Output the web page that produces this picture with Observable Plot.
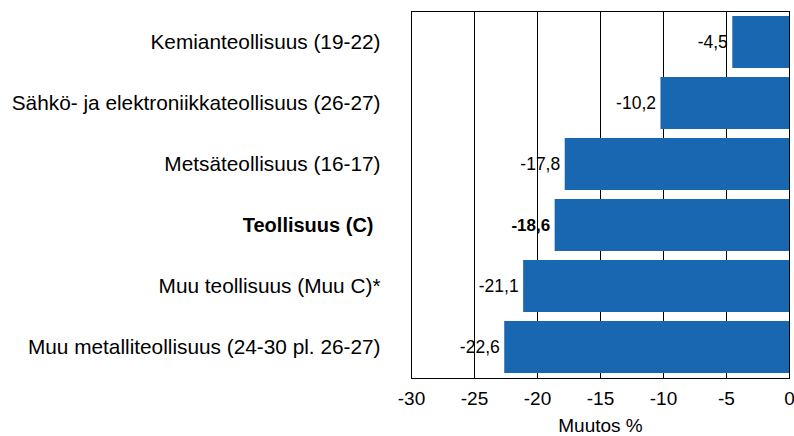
<!DOCTYPE html>
<html>
<head>
<meta charset="utf-8">
<script src="https://cdn.jsdelivr.net/npm/d3@7"></script>
<script src="https://cdn.jsdelivr.net/npm/@observablehq/plot@0.6"></script>
<style>
  html, body { margin: 0; padding: 0; background: #ffffff; }
  #chart { width: 794px; height: 436px; }
</style>
</head>
<body>
<div id="chart"></div>
<script>
const categories = [
  "Kemianteollisuus (19-22)",
  "Sähkö- ja elektroniikkateollisuus (26-27)",
  "Metsäteollisuus (16-17)",
  "Teollisuus (C)",
  "Muu teollisuus (Muu C)*",
  "Muu metalliteollisuus (24-30 pl. 26-27)"
];
const values = [-4.5, -10.2, -17.8, -18.6, -21.1, -22.6];
const boldCategory = "Teollisuus (C)";
const xTicks = [-30, -25, -20, -15, -10, -5, 0];
const xLabel = "Muutos %";

const data = categories.map((c, i) => ({cat: c, value: values[i], bold: c === boldCategory}));
const fmt = v => d3.format(".1f")(v).replace(".", ",").replace("−", "-");
const font = "'Liberation Sans', Arial, sans-serif";

const chart = Plot.plot({
  width: 794,
  height: 436,
  marginLeft: 411,
  marginRight: 5,
  marginTop: 11,
  marginBottom: 58,
  style: {fontFamily: font, fontSize: "19px", background: "#ffffff", color: "#000"},
  x: {domain: [-30, 0]},
  y: {domain: categories, paddingInner: 0.15, paddingOuter: 0.05, axis: null},
  marks: [
    Plot.ruleX(xTicks, {stroke: "#000", strokeOpacity: 1, strokeWidth: 1}),
    Plot.barX(data, {x1: 0, x2: "value", y: "cat", fill: "#1967b0"}),
    Plot.frame({stroke: "#000", strokeWidth: 1}),
    Plot.text(data.filter(d => !d.bold), {x: "value", y: "cat", text: d => fmt(d.value), textAnchor: "end", dx: -5, fill: "#000", fontSize: 17.5}),
    Plot.text(data.filter(d => d.bold), {x: "value", y: "cat", text: d => fmt(d.value), textAnchor: "end", dx: -5, fill: "#000", fontSize: 17, fontWeight: "bold"}),
    Plot.text(data.filter(d => !d.bold), {y: "cat", text: "cat", frameAnchor: "left", textAnchor: "end", dx: -31, fill: "#000", fontSize: 20.8}),
    Plot.text(data.filter(d => d.bold), {y: "cat", text: "cat", frameAnchor: "left", textAnchor: "end", dx: -38, fill: "#000", fontSize: 20, fontWeight: "bold"}),
    Plot.axisX(xTicks, {tickSize: 0, tickPadding: 13, tickFormat: d => String(d), fontSize: 19, label: xLabel, labelAnchor: "center", labelOffset: 53, labelArrow: "none"})
  ]
});
document.getElementById("chart").appendChild(chart);
</script>
</body>
</html>
